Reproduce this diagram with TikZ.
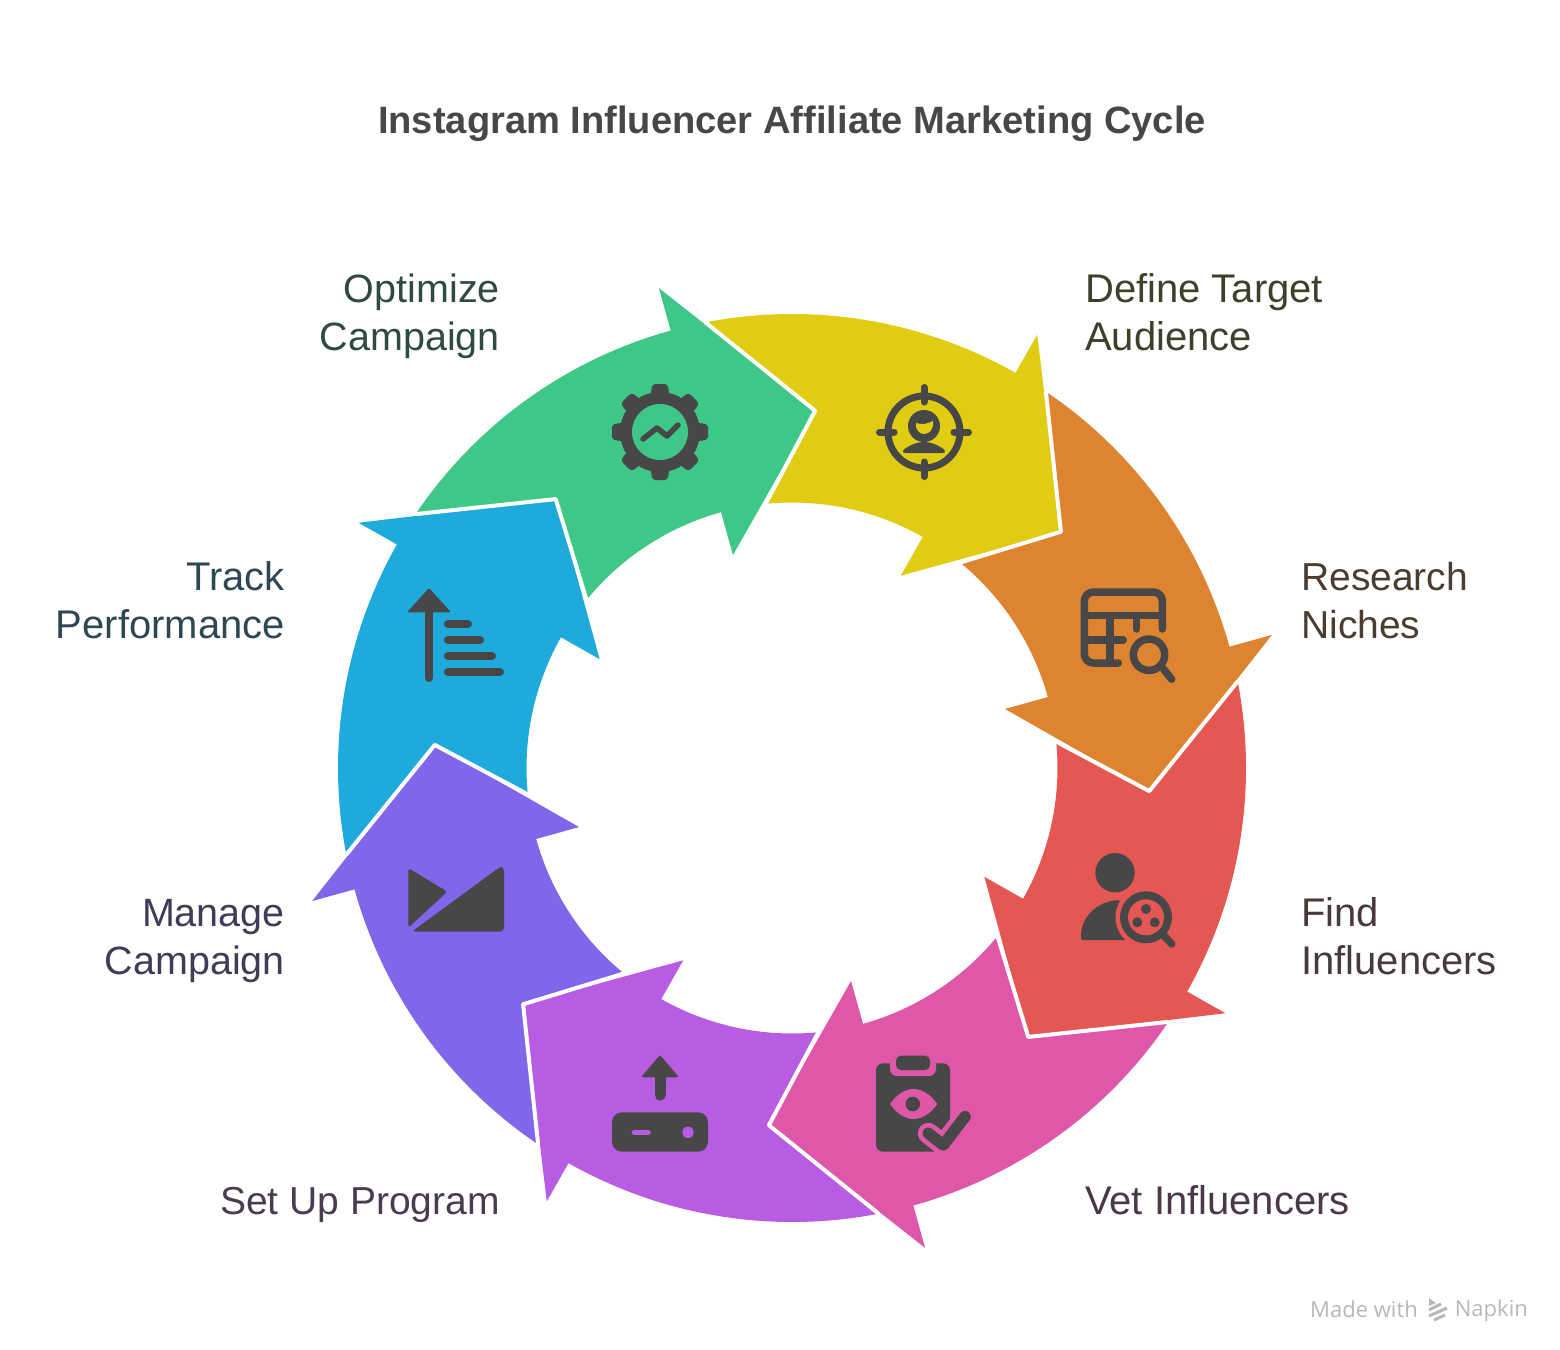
\documentclass[tikz,border=0pt]{standalone}
\usepackage{fontspec}
\setmainfont{Liberation Sans}
\newfontfamily\footfont{Open Sans}
\definecolor{iconc}{HTML}{474747}
\definecolor{greenc}{HTML}{3EC786}
\definecolor{yellowc}{HTML}{E0CC12}
\definecolor{orangec}{HTML}{DE8330}
\definecolor{redc}{HTML}{E55753}
\definecolor{pinkc}{HTML}{DE57A8}
\definecolor{purplec}{HTML}{B85CE3}
\definecolor{violetc}{HTML}{7F66EA}
\definecolor{bluec}{HTML}{1EABDB}
\definecolor{greentext}{HTML}{2F4A3F}
\definecolor{yellowtext}{HTML}{3F3F2A}
\definecolor{orangetext}{HTML}{4A3D30}
\definecolor{redtext}{HTML}{483A3A}
\definecolor{pinktext}{HTML}{4A3848}
\definecolor{purpletext}{HTML}{493B50}
\definecolor{violettext}{HTML}{3F3C58}
\definecolor{bluetext}{HTML}{2F4753}
\definecolor{footc}{HTML}{B8B8B8}
\tikzset{
  labeltext/.style={inner sep=0pt,font=\fontsize{40}{48}\selectfont},
  leftlabel/.style={labeltext,anchor=east,align=right},
  rightlabel/.style={labeltext,anchor=west,align=left},
  seam/.style={draw=white,line width=4pt,line join=round},
  iconline/.style={draw=iconc,line cap=round,line join=round,line width=7.5pt},
  footnote/.style={font=\footfont\fontsize{22}{26}\selectfont,text=footc,inner sep=0pt,anchor=east},
}
\newcommand{\flowarrow}[2]{
  \fill[#1] (#2-146:454) arc[start angle=#2-146,end angle=#2-105.5,radius=454]
    -- (#2-105.5:498) -- (#2-86.3:358) -- (#2-105.5:221) -- (#2-105.5:265.5)
    arc[start angle=#2-105.5,end angle=#2-140.7,radius=265.5]
    -- (#2-131.3:358) -- cycle;
}
\newcommand{\flowseam}[1]{
  \draw[seam] (#1-101:454) -- (#1-86.3:358) -- (#1-95.7:265.5);
}
\begin{document}
\begin{tikzpicture}[x=1pt,y=-1pt]
  \useasboundingbox (0,0) rectangle (1560,1349);
  \fill[white] (0,0) rectangle (1560,1349);

  \begin{scope}[shift={(792,768)}]
    \flowarrow{greenc}{0}
    \flowarrow{yellowc}{45}
    \flowarrow{orangec}{90}
    \flowarrow{redc}{135}
    \flowarrow{pinkc}{180}
    \flowarrow{purplec}{225}
    \flowarrow{violetc}{270}
    \flowarrow{bluec}{315}
    \foreach \rot in {0,45,...,315} {\flowseam{\rot}}
  \end{scope}

  \node[font=\bfseries\fontsize{38.1}{46}\selectfont,text=iconc,inner sep=0pt] (title) at (792,124) {Instagram Influencer Affiliate Marketing Cycle};

  \node[leftlabel,text=greentext,font=\fontsize{39.5}{48}\selectfont] (optimize) at (500,316) {Optimize\\Campaign};
  \node[rightlabel,text=yellowtext] (define) at (1085,312.5) {Define Target\\Audience};
  \node[rightlabel,text=orangetext,font=\fontsize{39}{48}\selectfont] (research) at (1301,600.5) {Research\\Niches};
  \node[rightlabel,text=redtext] (find) at (1301,936.5) {Find\\Influencers};
  \node[rightlabel,text=pinktext] (vet) at (1085,1200.5) {Vet Influencers};
  \node[leftlabel,text=purpletext,font=\fontsize{39}{48}\selectfont] (setup) at (500,1204.5) {Set Up Program};
  \node[leftlabel,text=violettext,font=\fontsize{39.5}{48}\selectfont] (manage) at (285,940.5) {Manage\\Campaign};
  \node[leftlabel,text=bluetext] (track) at (285,600.5) {Track\\Performance};

  % gear
  \foreach \a in {0,45,...,315}
    \fill[iconc,rotate around={\a:(660,432)}] (651,392) [rounded corners=3pt] -- (652.5,384) -- (667.5,384) -- (669,392) -- (669,405) -- (651,405) -- cycle;
  \fill[iconc] (660,432) circle (40);
  \fill[greenc] (660,432) circle (28);
  \draw[iconc,line width=5.5pt,line cap=round,line join=round] (643,439) -- (657,428) -- (667,436) -- (678,425);

  % target
  \draw[iconc,line width=7pt] (924,432) circle (36);
  \draw[iconc,line width=7pt,line cap=round] (924,387.5) -- (924,402);
  \draw[iconc,line width=7pt,line cap=round] (924,476.5) -- (924,462);
  \draw[iconc,line width=7pt,line cap=round] (879.5,432) -- (894,432);
  \draw[iconc,line width=7pt,line cap=round] (968.5,432) -- (954,432);
  \fill[iconc] (924,426) circle (16);
  \fill[yellowc] (916,423) .. controls (922,425) and (927,424) .. (933,421) .. controls (934,430) and (929,434) .. (924,434) .. controls (919,434) and (915,429) .. (916,423) -- cycle;
  \fill[iconc] (906,453) .. controls (900,453) and (904,449) .. (906,448) .. controls (912,444) and (918,442) .. (924,442) .. controls (930,442) and (936,444) .. (942,448) .. controls (945,450) and (947,453) .. (942,453) -- cycle;

  % table and lens
  \draw[iconline] (1162.3,629) -- (1162.3,601) arc[start angle=0,end angle=-90,radius=9] -- (1093.3,592) arc[start angle=-90,end angle=-180,radius=9] -- (1084.3,654) arc[start angle=180,end angle=90,radius=9] -- (1118.3,663);
  \draw[iconline] (1084.3,615.7) -- (1162.3,615.7);
  \draw[iconline] (1136.7,615.7) -- (1136.7,629);
  \draw[iconline] (1110,615.7) -- (1110,663);
  \draw[iconline] (1084.3,640) -- (1123.3,640);
  \draw[iconline] (1149,654.7) circle (15.7);
  \draw[iconline] (1163.5,669) -- (1171.7,679.3);

  % person and lens
  \fill[iconc] (1115,872.7) circle (19.7);
  \fill[iconc,rounded corners=2pt] (1081,940) -- (1081,936) .. controls (1082,916) and (1098,901) .. (1120,900) -- (1130,940) -- cycle;
  \fill[redc] (1146,917.3) circle (30.5);
  \fill[redc] (1125,930) -- (1150,950) -- (1125,950) -- cycle;
  \fill[iconc] (1146,917.3) circle (26);
  \fill[redc] (1146,917.3) circle (18);
  \fill[iconc] (1146,909) circle (5);
  \fill[iconc] (1137.3,922.3) circle (5);
  \fill[iconc] (1154.7,922.3) circle (5);
  \draw[iconline] (1163.3,935) -- (1171.7,944);

  % clipboard
  \fill[iconc,rounded corners=7pt] (876,1063.3) rectangle (950,1151.7);
  \fill[pinkc,rounded corners=7pt] (890,1050) rectangle (936,1076);
  \fill[iconc,rounded corners=5pt] (896,1055.7) rectangle (930,1070);
  \fill[pinkc] (890,1104) .. controls (904,1084) and (923,1084) .. (937.3,1104) .. controls (923,1124) and (904,1124) .. (890,1104) -- cycle;
  \fill[iconc] (912.7,1104) circle (7.3);
  \draw[pinkc,line width=21pt,line cap=round,line join=round] (928.3,1133.3) -- (943.3,1145) -- (965,1116.7);
  \draw[iconc,line width=11.5pt,line cap=round,line join=round] (928.3,1133.3) -- (943.3,1145) -- (965,1116.7);

  % upload box
  \fill[iconc,rounded corners=2pt] (660,1055) -- (679,1077.3) -- (641,1077.3) -- cycle;
  \draw[iconc,line width=11pt,line cap=round] (660,1072) -- (660,1095);
  \fill[iconc,rounded corners=10pt] (612,1112.3) rectangle (708,1151.7);
  \draw[purplec,line width=5.5pt,line cap=round] (634.5,1132.3) -- (648,1132.3);
  \fill[purplec] (688,1132.3) circle (5.7);

  % envelope
  \fill[iconc,rounded corners=3pt] (408.3,868) -- (447.3,891.7) -- (408.3,927.7) -- cycle;
  \fill[iconc,rounded corners=4pt] (411.7,931.7) -- (500,867) -- (504,867) -- (504,931.7) -- cycle;

  % rising bars
  \fill[iconc,rounded corners=2pt] (429,588) -- (451,612.3) -- (407,612.3) -- cycle;
  \draw[iconc,line width=8pt,line cap=round] (429,610) -- (429,678);
  \draw[iconc,line width=8pt,line cap=round] (448,624) -- (468,624);
  \draw[iconc,line width=8pt,line cap=round] (448,640) -- (480,640);
  \draw[iconc,line width=8pt,line cap=round] (448,656) -- (492,656);
  \draw[iconc,line width=8pt,line cap=round] (448,672) -- (500,672);

  % footer
  \node[footnote] (madewith) at (1418,1309) {Made with};
  \node[footnote] (napkin) at (1528,1311) {Napkin};
  \fill[footc] (1429,1298) -- (1436,1303) -- (1429,1306) -- cycle;
  \draw[footc,line width=3pt] (1429,1310) -- (1441,1304);
  \draw[footc,line width=3pt] (1429,1316) -- (1447,1308);
  \draw[footc,line width=3pt] (1434,1320) -- (1445,1315);
\end{tikzpicture}
\end{document}
